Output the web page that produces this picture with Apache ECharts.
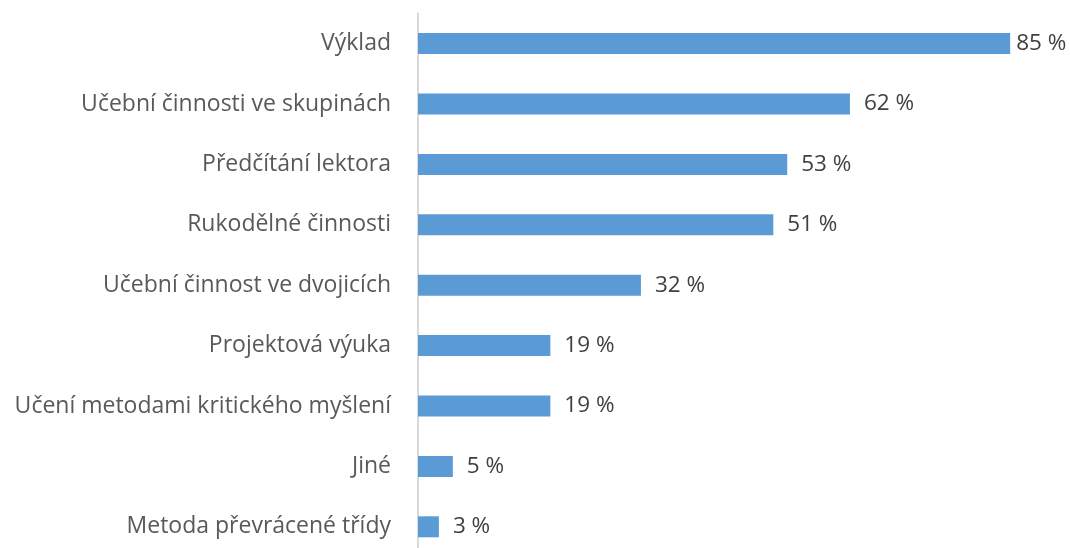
<!DOCTYPE html>
<html>
<head>
<meta charset="utf-8">
<script src="https://cdn.jsdelivr.net/npm/echarts@6/dist/echarts.min.js"></script>
<style>
  html, body { margin: 0; padding: 0; background: #fff; overflow: hidden; }
  /* chart runs slightly past the bottom of the window, as in the original */
  #main { width: 1070px; height: 557px; }
</style>
</head>
<body>
<div id="main"></div>
<script>
// Categories, top to bottom
const categories = [
  'Výklad',
  'Učební činnosti ve skupinách',
  'Předčítání lektora',
  'Rukodělné činnosti',
  'Učební činnost ve dvojicích',
  'Projektová výuka',
  'Učení metodami kritického myšlení',
  'Jiné',
  'Metoda převrácené třídy'
];

// Share of respondents, percent
const shares = [85, 62, 53, 51, 32, 19, 19, 5, 3];

const textColor = '#595959';
const fontFamily = '"Open Sans", "Noto Sans", sans-serif';

const chart = echarts.init(document.getElementById('main'));

// longest bar sits close to the right edge, so its label hugs the bar
const barData = shares.map((v, i) =>
  i === 0 ? { value: v, label: { distance: 6 } } : v
);

chart.setOption({
  animation: false,
  grid: {
    left: 418,
    width: 627,
    top: 13.4,
    height: 543.6,
    containLabel: false
  },
  xAxis: {
    type: 'value',
    min: 0,
    max: 90,
    show: false
  },
  yAxis: {
    type: 'category',
    inverse: true,
    data: categories,
    axisLine: { show: true, lineStyle: { color: '#d9d9d9', width: 2 } },
    axisTick: { show: false },
    axisLabel: {
      color: textColor,
      fontSize: 23,
      fontFamily: fontFamily,
      margin: 27
    }
  },
  series: [{
    type: 'bar',
    data: barData,
    barWidth: 21,
    itemStyle: { color: '#5b9bd5' },
    label: {
      show: true,
      position: 'right',
      distance: 14,
      color: '#404040',
      fontSize: 22.5,
      fontFamily: fontFamily,
      formatter: (p) => p.value + ' %'
    }
  }]
});
</script>
</body>
</html>
